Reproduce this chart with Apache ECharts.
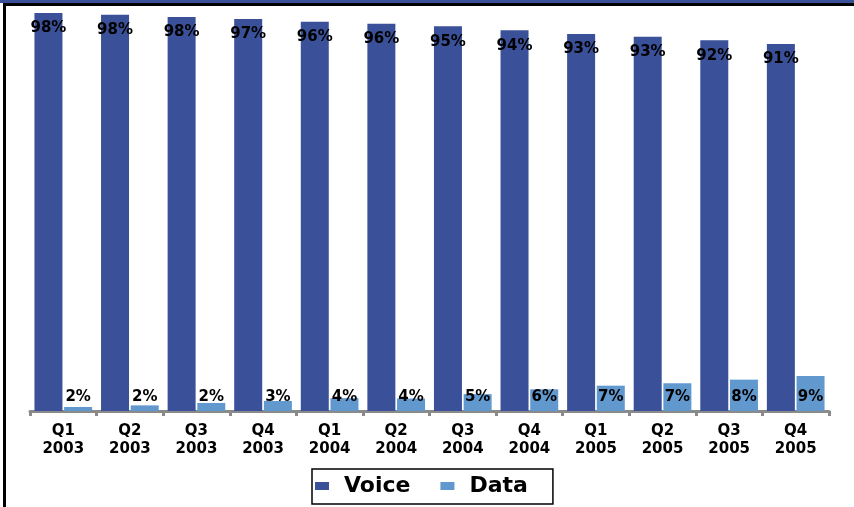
<!DOCTYPE html>
<html>
<head>
<meta charset="utf-8">
<script src="https://cdn.jsdelivr.net/npm/echarts@6/dist/echarts.min.js"></script>
<style>html,body{margin:0;padding:0;background:#fff}#c{width:854px;height:507px}</style>
</head>
<body>
<div id="c"></div>
<script>
const categories = ['Q1\n2003','Q2\n2003','Q3\n2003','Q4\n2003','Q1\n2004','Q2\n2004','Q3\n2004','Q4\n2004','Q1\n2005','Q2\n2005','Q3\n2005','Q4\n2005'];
const voiceValues = [99.0, 98.6, 98.0, 97.5, 96.8, 96.3, 95.7, 94.7, 93.8, 93.1, 92.2, 91.3];
const dataValues  = [1.0, 1.4, 2.0, 2.5, 3.2, 3.1, 4.2, 5.4, 6.3, 6.9, 7.8, 8.7];
const voiceLabels = ['98%','98%','98%','97%','96%','96%','95%','94%','93%','93%','92%','91%'];
const dataLabels  = ['2%','2%','2%','3%','4%','4%','5%','6%','7%','7%','8%','9%'];

const FONT = 'DejaVu Sans';
const VOICE = '#3A5199';
const DATA = '#6199CF';

const chart = echarts.init(document.getElementById('c'));
chart.setOption({
  animation: false,
  backgroundColor: '#fff',
  grid: { left: 30, right: 25, top: 9, bottom: 96 },
  xAxis: {
    type: 'category',
    data: categories,
    axisLine: { show: true, lineStyle: { color: '#8a8a8a', width: 3 } },
    axisTick: { show: true, length: 5, lineStyle: { color: '#8a8a8a', width: 3 } },
    axisLabel: { color: '#000', fontFamily: FONT, fontWeight: 'bold', fontSize: 15, lineHeight: 18, margin: 11 }
  },
  yAxis: { type: 'value', min: 0, max: 100, show: false, splitLine: { show: false } },
  legend: {
    left: 312, top: 469,
    padding: [6, 25, 7, 3],
    borderColor: '#000', borderWidth: 1.5,
    itemWidth: 14, itemHeight: 8, itemGap: 30,
    icon: 'rect',
    textStyle: {
      color: '#000', fontFamily: FONT, fontWeight: 'bold', fontSize: 22, padding: [0, 0, 0, 10]
    },
    data: ['Voice', 'Data']
  },
  series: [
    {
      name: 'Voice', type: 'bar', data: voiceValues,
      barWidth: 28, barGap: '6%',
      itemStyle: { color: VOICE },
      label: { show: true, position: 'insideTop', distance: 8, color: '#000', fontFamily: FONT, fontWeight: 'bold', fontSize: 15,
        formatter: p => voiceLabels[p.dataIndex] }
    },
    {
      name: 'Data', type: 'bar', data: dataValues,
      barWidth: 28,
      itemStyle: { color: DATA },
      label: { show: true, position: 'insideBottom', distance: 6, color: '#000', fontFamily: FONT, fontWeight: 'bold', fontSize: 15,
        formatter: p => dataLabels[p.dataIndex] }
    }
  ],
  graphic: [
    { type: 'rect', shape: { x: 0, y: 0, width: 854, height: 3 }, style: { fill: VOICE } },
    { type: 'rect', shape: { x: 4, y: 3, width: 850, height: 3 }, style: { fill: '#000' } },
    { type: 'rect', shape: { x: 3, y: 3, width: 3, height: 504 }, style: { fill: '#000' } }
  ]
});
</script>
</body>
</html>
